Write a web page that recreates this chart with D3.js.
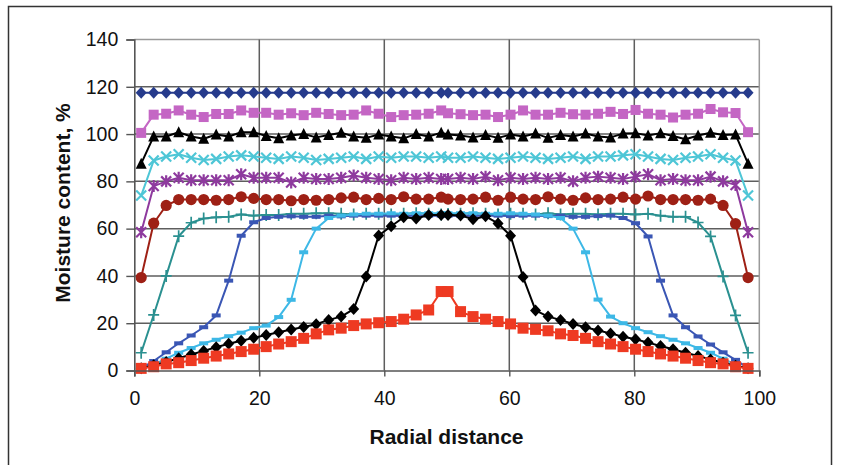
<!DOCTYPE html>
<html>
<head>
<meta charset="utf-8">
<script src="https://cdn.jsdelivr.net/npm/d3@7/dist/d3.min.js"></script>
<style>
  html, body { margin: 0; padding: 0; background: #fff; }
  svg { display: block; }
  text { font-family: "Liberation Sans", Arial, sans-serif; fill: #111; }
</style>
</head>
<body>
<svg id="chart" width="842" height="465"></svg>
<script>
// Radial positions of the sampling points (two halves, mirrored about the centre)
const radial = [
  1.1, 3.1, 5.1, 7.1, 9.1, 11.1, 13.1, 15.1, 17.1, 19.1,
  21.1, 23.1, 25.1, 27.1, 29.1, 31.1, 33.1, 35.1, 37.1, 39.1,
  41.1, 43.1, 45.1, 47.1, 49.1, 50.2, 52.2, 54.2, 56.2, 58.2,
  60.2, 62.2, 64.2, 66.2, 68.2, 70.2, 72.2, 74.2, 76.2, 78.2,
  80.2, 82.2, 84.2, 86.2, 88.2, 90.2, 92.2, 94.2, 96.2, 98.2
];

// Moisture content profiles (%), one per drying stage
const profile1 = [
  117.5, 117.5, 117.5, 117.5, 117.5, 117.5, 117.5, 117.5, 117.5, 117.5,
  117.5, 117.5, 117.5, 117.5, 117.5, 117.5, 117.5, 117.5, 117.5, 117.5,
  117.5, 117.5, 117.5, 117.5, 117.5, 117.5, 117.5, 117.5, 117.5, 117.5,
  117.5, 117.5, 117.5, 117.5, 117.5, 117.5, 117.5, 117.5, 117.5, 117.5,
  117.5, 117.5, 117.5, 117.5, 117.5, 117.5, 117.5, 117.5, 117.5, 117.5
];
const profile2 = [
  100.5, 108.2, 108.6, 110.0, 108.2, 107.2, 108.5, 108.5, 110.0, 109.0,
  109.0, 108.2, 108.8, 108.0, 109.0, 108.5, 108.0, 108.2, 110.0, 108.6,
  107.2, 108.0, 108.2, 108.6, 110.0, 108.8, 108.4, 108.0, 108.2, 107.2,
  108.2, 110.0, 108.2, 108.2, 109.0, 108.4, 108.2, 108.6, 109.4, 108.5,
  110.2, 108.6, 108.2, 107.0, 108.2, 108.6, 110.6, 109.2, 108.9, 100.8
];
const profile3 = [
  87.5, 99.0, 99.0, 100.8, 99.0, 98.0, 99.8, 99.0, 100.8, 100.8,
  99.2, 98.2, 99.4, 100.0, 98.6, 99.6, 100.6, 99.0, 98.4, 99.8,
  99.0, 98.2, 100.0, 99.0, 100.6, 99.8, 99.4, 98.6, 99.6, 98.4,
  99.8, 99.0, 100.2, 98.4, 99.6, 99.0, 100.2, 99.0, 98.6, 100.2,
  100.4, 99.4, 100.4, 99.2, 97.8, 99.4, 100.6, 99.6, 99.8, 87.5
];
const profile4 = [
  74.0, 88.8, 90.5, 91.5, 90.0, 89.0, 89.5, 90.5, 91.0, 90.5,
  90.0, 89.5, 90.5, 90.0, 89.0, 89.5, 90.0, 90.5, 89.5, 90.5,
  90.0, 90.5, 90.5, 90.0, 90.5, 90.0, 90.0, 90.5, 90.0, 89.5,
  90.0, 90.5, 90.0, 89.5, 90.0, 90.5, 89.5, 90.5, 90.5, 91.0,
  91.5, 90.5, 89.5, 89.0, 90.0, 90.5, 91.5, 90.0, 88.8, 74.0
];
const profile5 = [
  58.5, 78.0, 80.0, 81.5, 80.5, 80.5, 80.5, 80.5, 83.0, 81.5,
  81.5, 81.5, 79.5, 81.5, 81.0, 81.0, 81.5, 82.5, 81.5, 81.0,
  80.5, 81.5, 81.0, 81.5, 81.0, 81.0, 81.5, 81.0, 82.0, 80.5,
  81.5, 81.0, 81.5, 81.0, 81.5, 80.0, 81.5, 82.0, 81.5, 81.0,
  82.0, 83.0, 80.5, 81.0, 80.5, 80.5, 82.0, 80.0, 78.5, 58.5
];
const profile6 = [
  39.3, 62.3, 69.8, 72.3, 72.3, 72.3, 72.0, 72.3, 73.5, 72.8,
  72.3, 72.3, 71.8, 72.3, 72.0, 72.3, 73.0, 73.3, 72.3, 72.8,
  72.3, 73.5, 72.5, 72.5, 73.3, 72.5, 72.3, 72.5, 73.3, 72.0,
  73.3, 72.5, 72.3, 73.5, 72.5, 72.0, 73.0, 72.3, 72.5, 73.3,
  72.5, 73.8, 72.3, 72.3, 72.3, 72.0, 72.5, 69.8, 62.1, 39.3
];
const profile7 = [
  7.5, 23.5, 40.0, 56.8, 62.5, 64.3, 64.8, 65.0, 66.0, 65.5,
  65.8, 65.8, 66.3, 66.3, 66.5, 66.5, 66.3, 66.0, 66.3, 66.3,
  66.0, 66.3, 66.5, 66.3, 66.0, 66.2, 66.3, 66.5, 66.3, 66.0,
  66.3, 66.3, 66.0, 66.5, 66.0, 66.3, 66.3, 66.0, 66.3, 66.3,
  66.0, 66.3, 65.5, 65.0, 65.0, 62.6, 56.7, 39.8, 23.3, 7.5
];
const profile8 = [
  1.0, 4.0, 7.7, 11.5, 14.8, 18.3, 23.3, 38.0, 57.0, 62.7,
  64.5, 65.0, 65.2, 65.0, 65.0, 65.5, 65.2, 65.5, 65.5, 65.5,
  65.5, 65.3, 65.5, 65.5, 65.5, 65.5, 65.5, 65.5, 65.5, 65.5,
  65.3, 65.5, 65.5, 65.3, 65.5, 65.0, 65.0, 65.3, 65.5, 64.5,
  62.3, 56.7, 38.0, 23.3, 18.3, 14.4, 11.0, 7.7, 4.5, 1.0
];
const profile9 = [
  0.5, 2.5, 5.0, 7.5, 9.5, 11.5, 13.0, 14.5, 16.0, 17.9,
  19.0, 22.6, 29.9, 50.0, 60.0, 64.5, 65.5, 66.0, 66.3, 66.3,
  66.5, 66.3, 66.5, 66.5, 66.5, 66.5, 66.5, 66.5, 66.3, 66.3,
  66.5, 66.3, 66.0, 65.5, 64.5, 60.0, 50.0, 30.0, 22.8, 20.0,
  17.9, 16.2, 14.5, 13.0, 11.5, 9.5, 7.5, 5.0, 2.5, 0.5
];
const profile10 = [
  1.0, 2.2, 3.6, 5.2, 6.8, 8.3, 9.8, 11.3, 12.6, 13.8,
  15.0, 16.2, 17.3, 18.4, 19.6, 21.4, 22.8, 26.0, 39.8, 57.1,
  61.0, 64.8, 64.3, 65.8, 65.8, 65.8, 65.6, 64.0, 65.2, 62.2,
  57.0, 39.5, 25.4, 22.8, 21.4, 19.7, 18.3, 16.9, 15.7, 14.3,
  13.2, 11.8, 10.4, 9.0, 7.5, 6.1, 4.7, 3.3, 2.0, 1.0
];
const profile11 = [
  0.9, 1.6, 2.8, 3.3, 4.2, 5.2, 6.1, 7.0, 8.0, 9.0,
  10.1, 11.2, 12.2, 13.6, 15.5, 17.2, 17.9, 19.0, 19.7, 20.2,
  20.7, 21.7, 23.5, 25.6, 33.4, 33.4, 24.9, 22.8, 21.7, 20.7,
  19.7, 17.9, 17.4, 16.8, 15.5, 14.8, 13.6, 12.2, 11.2, 10.1,
  9.0, 8.0, 7.0, 6.1, 5.2, 4.2, 3.3, 2.8, 1.6, 0.9
];

// Axis ticks and titles
const xTicks = [0, 20, 40, 60, 80, 100];
const yTicks = [0, 20, 40, 60, 80, 100, 120, 140];
const xTitle = "Radial distance";
const yTitle = "Moisture content, %";

// Series styling: colour and marker shape
const series = [
  { values: profile1,  color: "#263b8c", marker: "diamond" },
  { values: profile2,  color: "#c466c4", marker: "square" },
  { values: profile3,  color: "#000000", marker: "triangle" },
  { values: profile4,  color: "#4ec6d6", marker: "x" },
  { values: profile5,  color: "#8e3a9e", marker: "star" },
  { values: profile6,  color: "#9e2015", marker: "circle" },
  { values: profile7,  color: "#2a9090", marker: "plus" },
  { values: profile8,  color: "#3a56b4", marker: "dash" },
  { values: profile9,  color: "#3db8e6", marker: "dash" },
  { values: profile10, color: "#000000", marker: "diamond" },
  { values: profile11, color: "#ee3a22", marker: "bigsquare" }
];

const svg = d3.select("#chart");

// Outer frame
svg.append("rect")
  .attr("x", 8.5).attr("y", 6.5)
  .attr("width", 823).attr("height", 472)
  .attr("fill", "none").attr("stroke", "#333").attr("stroke-width", 1.5);

const plotL = 134.3, plotR = 759.3, plotT = 39.5, plotB = 370.5;
const x = d3.scaleLinear().domain([0, 100]).range([plotL, plotR]);
const y = d3.scaleLinear().domain([0, 140]).range([plotB, plotT]);

const plot = svg.append("g");

// Grid
plot.append("g").selectAll("line").data(yTicks.filter(d => d > 0)).join("line")
  .attr("x1", plotL).attr("x2", plotR)
  .attr("y1", d => y(d)).attr("y2", d => y(d))
  .attr("stroke", d => d === 140 ? "#9a9a9a" : "#5e5e5e").attr("stroke-width", 1.5);
plot.append("g").selectAll("line").data(xTicks.filter(d => d > 0)).join("line")
  .attr("y1", plotT).attr("y2", plotB)
  .attr("x1", d => x(d)).attr("x2", d => x(d))
  .attr("stroke", d => d === 100 ? "#9a9a9a" : "#5e5e5e").attr("stroke-width", 1.5);

// Axes
const xAxis = d3.axisBottom(x).tickValues(xTicks).tickSize(6).tickPadding(15);
const yAxis = d3.axisLeft(y).tickValues(yTicks).tickSize(8).tickPadding(8);
const gx = svg.append("g").attr("transform", `translate(0,${plotB})`).call(xAxis);
const gy = svg.append("g").attr("transform", `translate(${plotL},0)`).call(yAxis);
[gx, gy].forEach(g => {
  g.select(".domain").attr("stroke", "#555").attr("stroke-width", 1.6);
  g.selectAll(".tick line").attr("stroke", "#555").attr("stroke-width", 1.4);
  g.selectAll(".tick text")
    .attr("font-family", "Liberation Sans, Arial, sans-serif")
    .attr("font-size", 19.5).attr("fill", "#111");
});

// Axis titles
svg.append("text")
  .attr("x", 446.5).attr("y", 444)
  .attr("text-anchor", "middle")
  .attr("font-size", 21).attr("font-weight", "bold")
  .text(xTitle);
svg.append("text")
  .attr("transform", "translate(70,203) rotate(-90)")
  .attr("text-anchor", "middle")
  .attr("font-size", 21).attr("font-weight", "bold")
  .text(yTitle);

// Marker drawing
function drawMarker(g, shape, color) {
  switch (shape) {
    case "diamond":
      g.append("path").attr("d", "M0,-6L5.5,0L0,6L-5.5,0Z").attr("fill", color);
      break;
    case "square":
      g.append("rect").attr("x", -5).attr("y", -5).attr("width", 10).attr("height", 10).attr("fill", color);
      break;
    case "bigsquare":
      g.append("rect").attr("x", -5.5).attr("y", -5.5).attr("width", 11).attr("height", 11).attr("fill", color);
      break;
    case "triangle":
      g.append("path").attr("d", "M0,-6L5.5,5L-5.5,5Z").attr("fill", color);
      break;
    case "circle":
      g.append("circle").attr("r", 5.6).attr("fill", color);
      break;
    case "x":
      g.append("path").attr("d", "M-5,-5L5,5M-5,5L5,-5")
        .attr("stroke", color).attr("stroke-width", 2.2).attr("fill", "none");
      break;
    case "star":
      g.append("path").attr("d", "M-5,-5L5,5M-5,5L5,-5M0,-6L0,6")
        .attr("stroke", color).attr("stroke-width", 2.2).attr("fill", "none");
      break;
    case "plus":
      g.append("path").attr("d", "M-5.5,0L5.5,0M0,-6L0,6")
        .attr("stroke", color).attr("stroke-width", 1.7).attr("fill", "none");
      break;
    case "dash":
      g.append("rect").attr("x", -4.5).attr("y", -2).attr("width", 9).attr("height", 4).attr("fill", color);
      break;
  }
}

const line = d3.line().x(d => x(d[0])).y(d => y(d[1]));

series.forEach(s => {
  const pts = radial.map((r, i) => [r, s.values[i]]);
  const g = plot.append("g");
  g.append("path").datum(pts)
    .attr("d", line)
    .attr("fill", "none")
    .attr("stroke", s.color)
    .attr("stroke-width", 2)
    .attr("stroke-linejoin", "round");
  g.selectAll("g.m").data(pts).join("g")
    .attr("class", "m")
    .attr("transform", d => `translate(${x(d[0])},${y(d[1])})`)
    .each(function () { drawMarker(d3.select(this), s.marker, s.color); });
});
</script>
</body>
</html>
